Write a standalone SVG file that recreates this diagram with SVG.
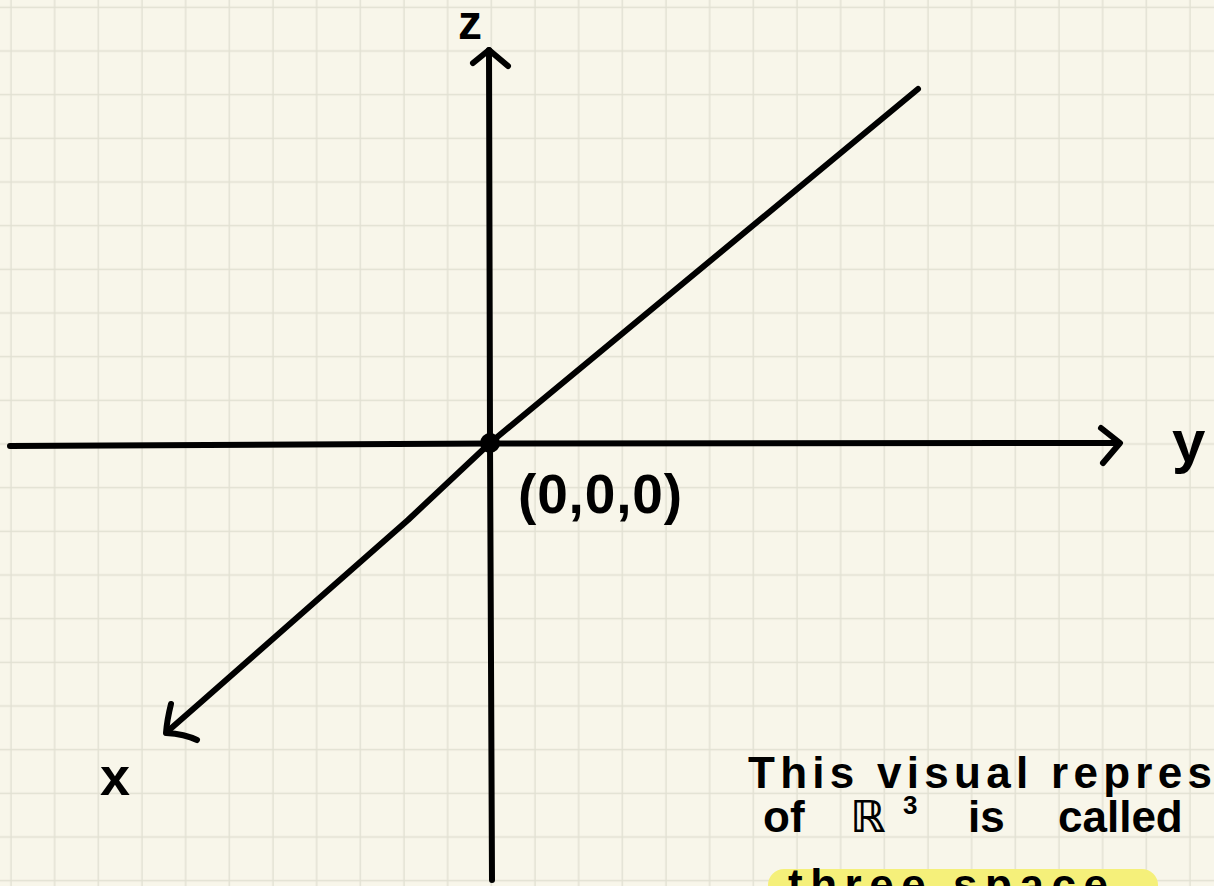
<svg xmlns="http://www.w3.org/2000/svg" width="1214" height="886" viewBox="0 0 1214 886">
<style>
.ax{fill:none;stroke:#000;stroke-width:6;stroke-linecap:round;stroke-linejoin:round}
.lbl{font-family:"Liberation Sans",Arial,sans-serif;font-weight:bold;fill:#000}
.note{font-family:"Liberation Sans",Arial,sans-serif;font-weight:bold;fill:#000;font-size:44px}
</style>
<defs>
<pattern id="grid" patternUnits="userSpaceOnUse" x="-10" y="-14" width="43.667" height="43.667">
<line x1="21" y1="0" x2="21" y2="43.667" stroke="#e1e0d2" stroke-width="1.4"/>
<line x1="0" y1="21.3" x2="43.667" y2="21.3" stroke="#e1e0d2" stroke-width="1.4"/>
</pattern>
</defs>
<rect width="1214" height="886" fill="#f8f6ea"/>
<rect width="1214" height="886" fill="url(#grid)"/>
<g id="highlight">
<rect x="768" y="869" width="390" height="40" rx="16" fill="#f5f07a"/>
</g>
<g id="connectors">
<path class="ax" d="M10,446 L490,443.5 L1118,443"/>
<polyline class="ax" points="1101,428 1120,443 1103,463"/>
<path class="ax" d="M489,50 L490,443 L492,880"/>
<polyline class="ax" points="473,63 489,50 508,66"/>
<path class="ax" d="M918,89 L490,443 L408,520 L200,703 L168,731"/>
<path class="ax" d="M171,704 Q167,720 166,733 Q185,734 197,740"/>
</g>
<g id="origin">
<circle cx="490" cy="443" r="10" fill="#000"/>
<text class="lbl" x="518" y="513" font-size="55" textLength="164" lengthAdjust="spacing">(0,0,0)</text>
</g>
<g id="label-z"><text class="lbl" x="458" y="39" font-size="48">z</text></g>
<g id="label-y"><text class="lbl" x="1172" y="462" font-size="60">y</text></g>
<g id="label-x"><text class="lbl" x="100" y="795" font-size="54">x</text></g>
<g id="note">
<text class="note" x="748" y="788" textLength="464" lengthAdjust="spacing">This visual repres</text>
<text class="note" y="832"><tspan x="763">of</tspan><tspan x="850" font-family="DejaVu Sans,sans-serif">ℝ</tspan><tspan x="903" y="814" font-size="26">3</tspan><tspan x="968" y="832">is</tspan><tspan x="1058">called</tspan></text>
<text class="note" x="788" y="900" textLength="320" lengthAdjust="spacing">three space</text>
</g>
</svg>
